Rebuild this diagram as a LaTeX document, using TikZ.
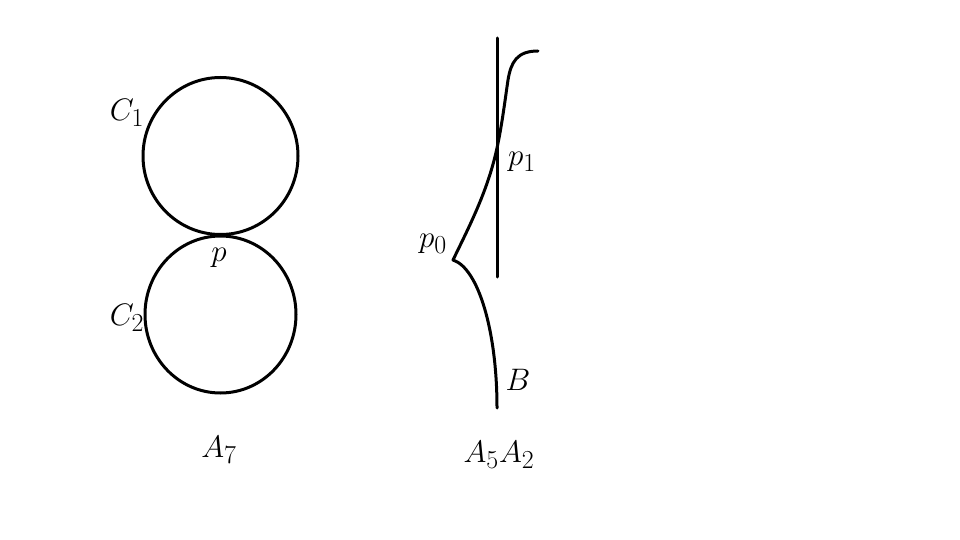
\documentclass[tikz,border=0pt]{standalone}
\newcommand{\lbltext}[1]{\scalebox{1.25}{$#1$}}
\begin{document}
\begin{tikzpicture}[x=1pt,y=-1pt,
  curve/.style={line width=3pt,line cap=round,line join=round},
  lbl/.style={inner sep=0pt,font=\Huge}]
\useasboundingbox (0,0) rectangle (960,540);
% left figure
\draw[curve] (220.5,156) ellipse[x radius=77.5,y radius=78.5];
\draw[curve] (220.5,314.5) ellipse[x radius=75.5,y radius=78.5];
\node[lbl] (c1) at (127,113) {\lbltext{C_1}};
\node[lbl] (c2) at (127,318) {\lbltext{C_2}};
\node[lbl] (p) at (219,258) {\lbltext{p}};
\node[lbl] (a7) at (219,450) {\lbltext{A_7}};
% right figure
\coordinate (lt) at (497,38);
\coordinate (lb) at (497,277);
\draw[curve] (lt) -- (lb);
\coordinate (s) at (538,51);
\coordinate (m) at (508,80);
\coordinate (q) at (497,148);
\coordinate (cusp) at (453,260);
\coordinate (e) at (497,408);
\draw[curve] (s) .. controls (517,51) and (511,62) .. (m)
  .. controls (505,100) and (502,125) .. (q)
  .. controls (488,190) and (470,225) .. (cusp)
  .. controls (478,268) and (497,330) .. (e);
\node[lbl] (p0) at (433,244) {\lbltext{p_0}};
\node[lbl] (p1) at (522,162) {\lbltext{p_1}};
\node[lbl] (b) at (518,380) {\lbltext{B}};
\node[lbl] (a52) at (499,455) {\lbltext{A_5A_2}};
\end{tikzpicture}
\end{document}
